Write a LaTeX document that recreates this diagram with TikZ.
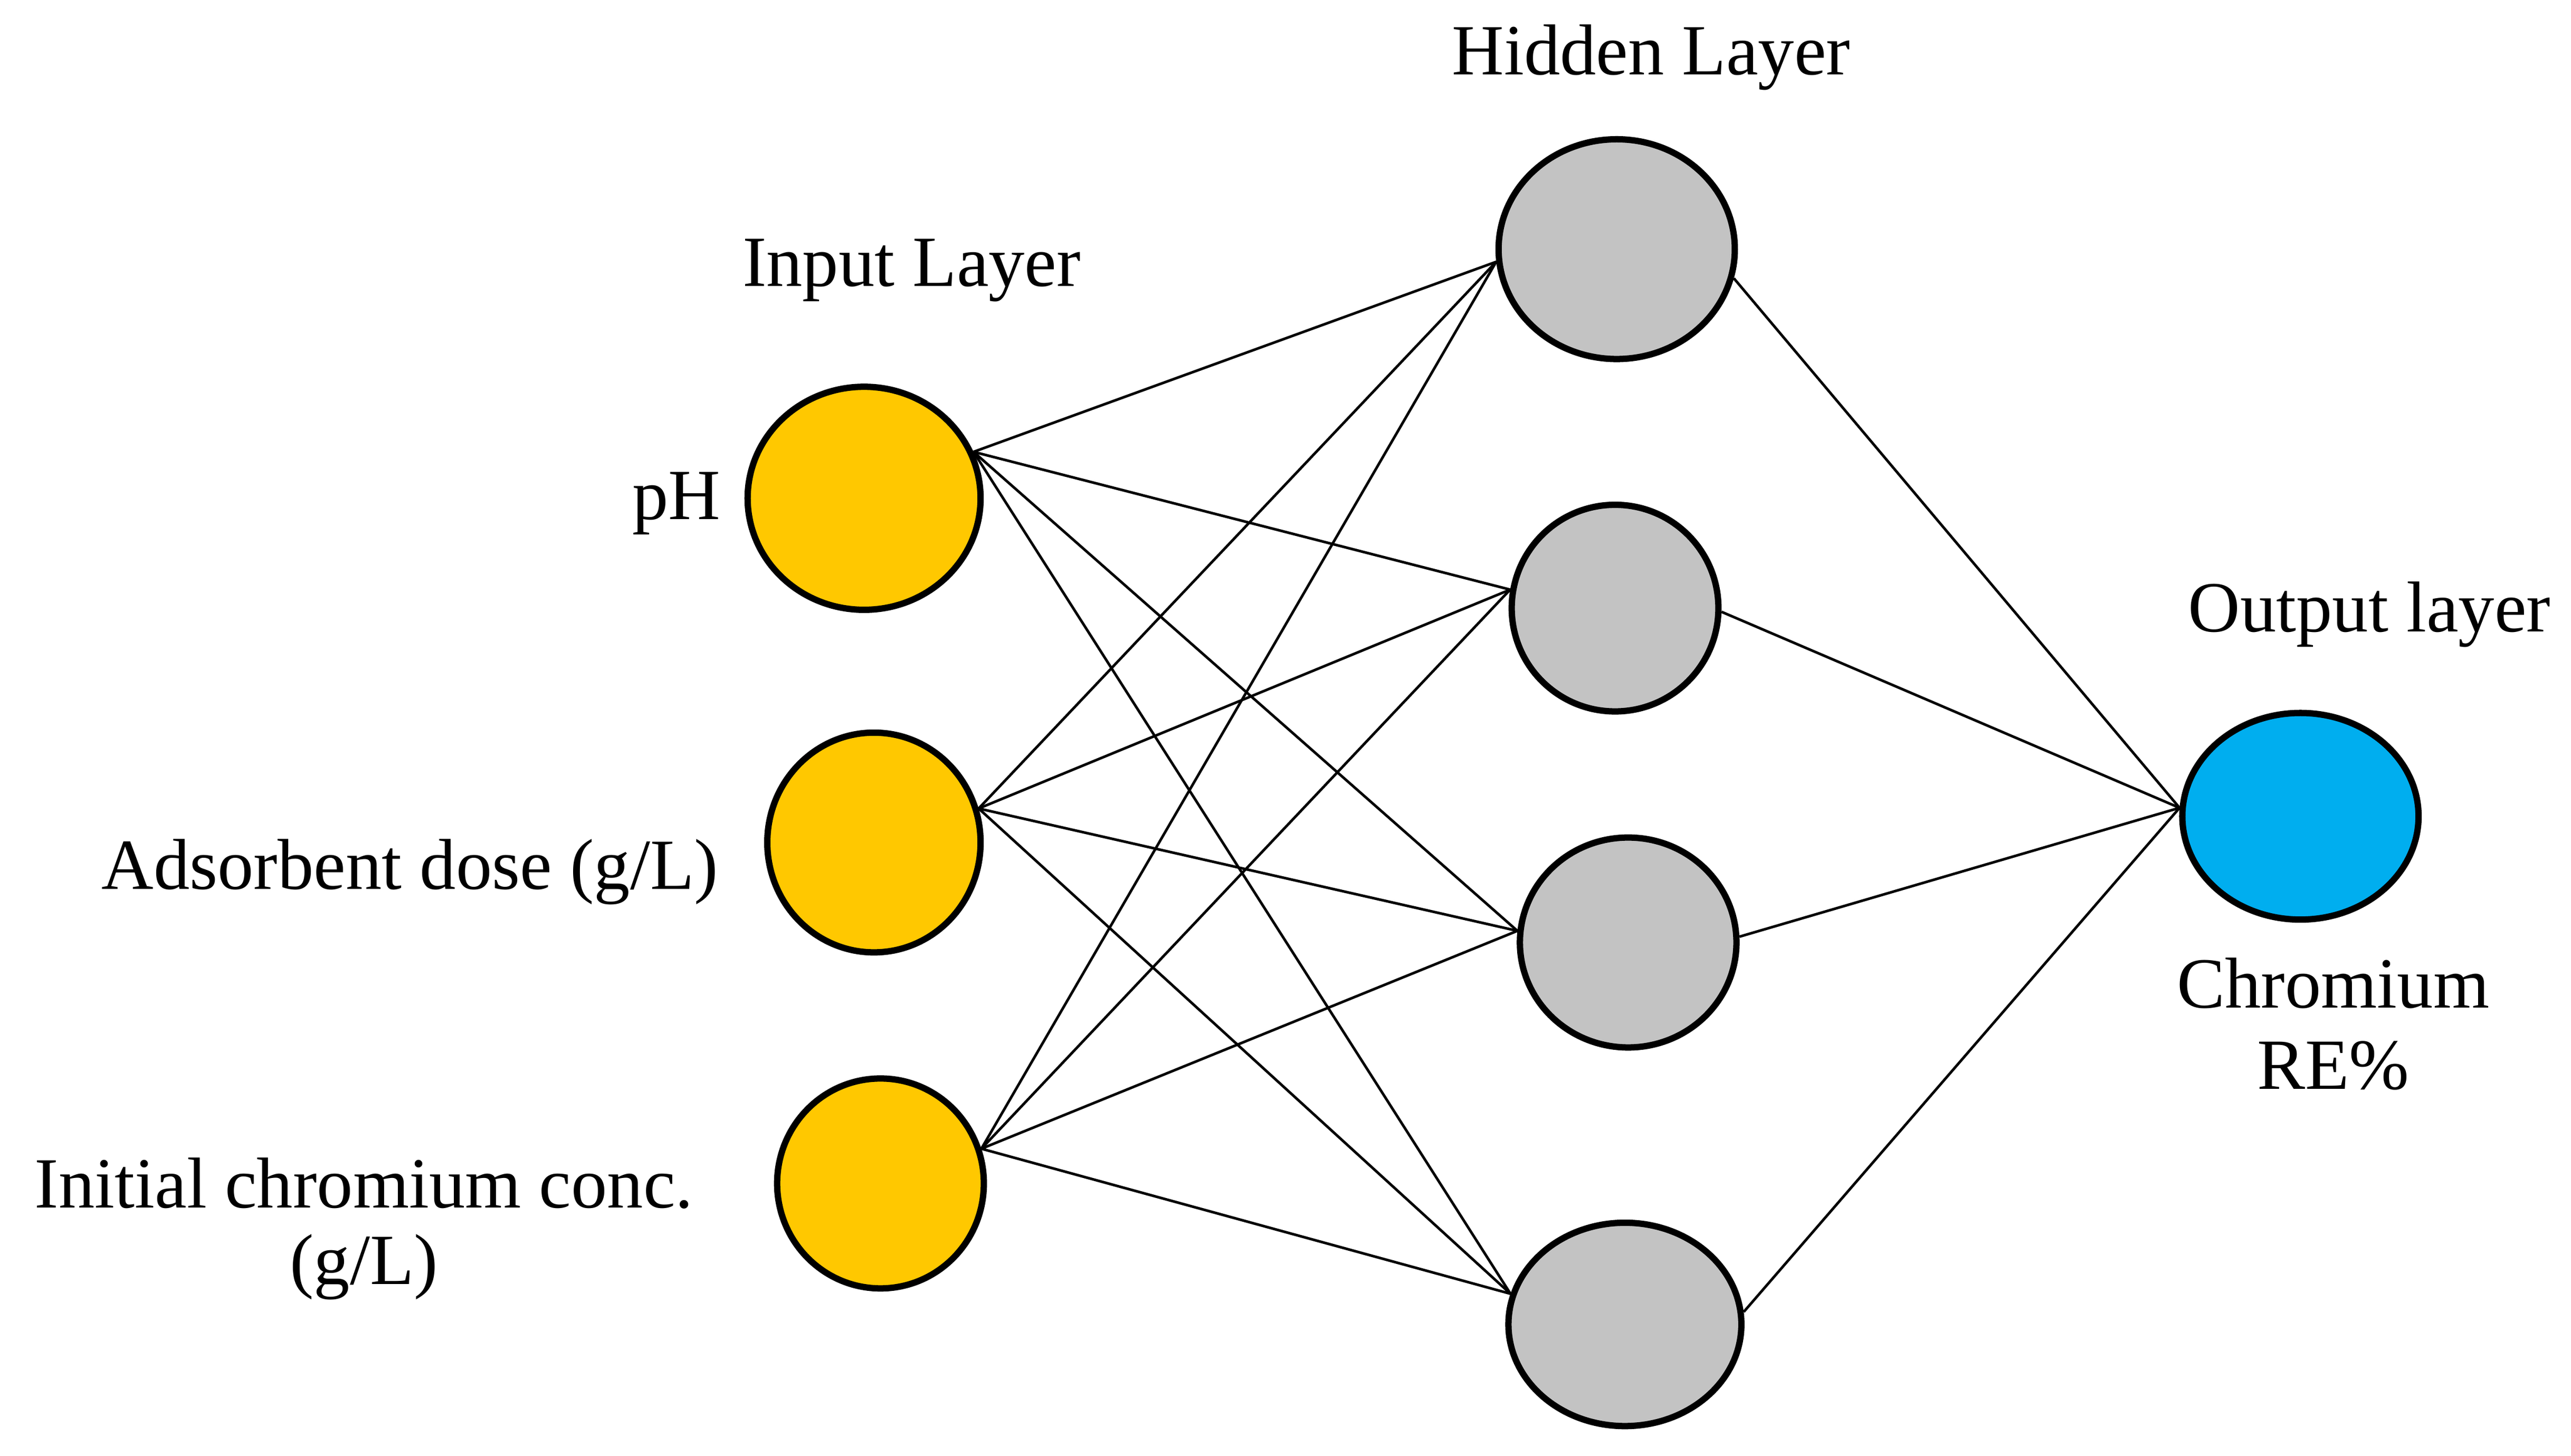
\documentclass[tikz,border=0pt]{standalone}
\usepackage{fontspec}
\setmainfont{Liberation Serif}
\usetikzlibrary{shapes.geometric}
\begin{document}
\begin{tikzpicture}[x=0.01cm,y=-0.01cm,
  neuron/.style={ellipse,draw=black,line width=1.1pt,inner sep=0pt},
  inp/.style={neuron,fill={rgb,255:red,255;green,200;blue,0}},
  hid/.style={neuron,fill={rgb,255:red,195;green,195;blue,195}},
  outn/.style={neuron,fill={rgb,255:red,0;green,174;blue,239}},
  lbl/.style={font=\fontsize{12.5}{15}\selectfont,inner sep=0pt},
  conn/.style={line width=0.45pt}]
\useasboundingbox (0,0) rectangle (1568,888);
\node[inp,minimum width=142\pgflinewidth*0+1.42cm,minimum height=1.36cm] (i1) at (527,304) {};
\node[inp,minimum width=1.30cm,minimum height=1.34cm] (i2) at (533,514) {};
\node[inp,minimum width=1.26cm,minimum height=1.28cm] (i3) at (537,722) {};
\node[hid,minimum width=1.44cm,minimum height=1.34cm] (h1) at (986,152) {};
\node[hid,minimum width=1.26cm,minimum height=1.26cm] (h2) at (985,371) {};
\node[hid,minimum width=1.32cm,minimum height=1.28cm] (h3) at (993,575) {};
\node[hid,minimum width=1.42cm,minimum height=1.24cm] (h4) at (991,808) {};
\node[outn,minimum width=1.44cm,minimum height=1.26cm] (o) at (1403,498) {};
\foreach \i/\a in {i1/23,i2/18,i3/19}
  \foreach \h/\b in {h1/186,h2/170,h3/174,h4/165}
    \draw[conn] (\i.\a) -- (\h.\b);
\foreach \h/\b in {h1/-14,h2/-2,h3/3,h4/6}
  \draw[conn] (\h.\b) -- (o.176);
\node[lbl] (t1) at (1007,35) {Hidden Layer};
\node[lbl] (t2) at (556,165) {Input Layer};
\node[lbl] (t3) at (1445,375) {Output layer};
\node[lbl,anchor=east] (l1) at (440,307) {pH};
\node[lbl] (l2) at (250,532) {Adsorbent dose (g/L)};
\node[lbl] (l3) at (222,722) {Initial chromium conc.};
\node[lbl] (l4) at (222,773) {(g/L)};
\node[lbl] (l5) at (1423,600) {Chromium};
\node[lbl] (l6) at (1423,650) {RE\%};
\end{tikzpicture}
\end{document}
